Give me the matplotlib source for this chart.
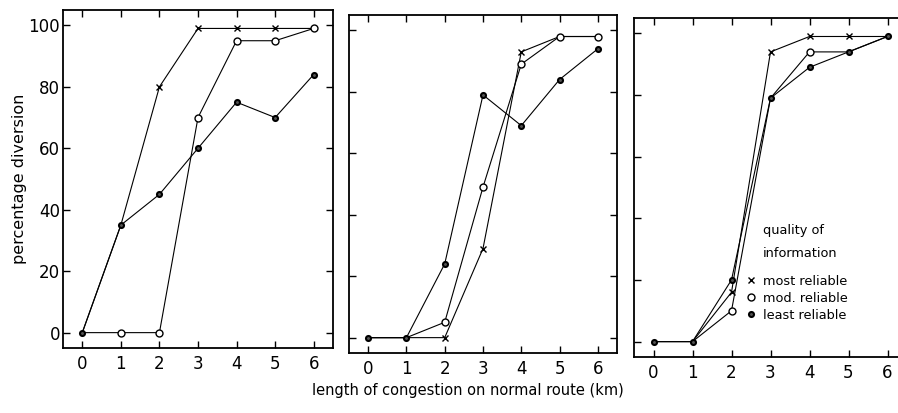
import matplotlib
matplotlib.use('Agg')
import matplotlib.pyplot as plt

plt.rcParams['font.family'] = ['DejaVu Sans']

# congestion length (km)
km = [0, 1, 2, 3, 4, 5, 6]

# percentage diversion, one list per panel and quality of information
p1_most = [0, 35, 80, 99, 99, 99, 99]
p1_mod = [0, 0, 0, 70, 95, 95, 99]
p1_least = [0, 35, 45, 60, 75, 70, 84]

p2_most = [0, 0, 0, 29, 93, 98, 98]
p2_mod = [0, 0, 5, 49, 89, 98, 98]
p2_least = [0, 0, 24, 79, 69, 84, 94]

p3_most = [0, 0, 16, 94, 99, 99, 99]
p3_mod = [0, 0, 10, 79, 94, 94, 99]
p3_least = [0, 0, 20, 79, 89, 94, 99]

panels = [
    (p1_most, p1_mod, p1_least),
    (p2_most, p2_mod, p2_least),
    (p3_most, p3_mod, p3_least),
]

labels = ['most reliable', 'mod. reliable', 'least reliable']
yticks = [0, 20, 40, 60, 80, 100]

# axes boxes in pixels (left, top, right, bottom) on a 898x413 canvas
W, H = 898, 413
boxes = [(63, 10, 333, 348), (349, 15, 617, 353), (634, 18, 907, 357)]

fig = plt.figure(figsize=(8.98, 4.13), dpi=100)


def free_points(vals, others):
    # hide a marker where another series already has a point
    return [i for i, v in enumerate(vals) if all(o[i] != v for o in others)]


for n, (most, mod, least) in enumerate(panels):
    l, t, r, b = boxes[n]
    ax = fig.add_axes([l / W, 1 - b / H, (r - l) / W, (b - t) / H])

    lw = 0.8
    h1, = ax.plot(km, most, color='black', lw=lw, marker='x', ms=4, mew=1.0,
                  markevery=free_points(most, [mod, least]), label=labels[0])
    h2, = ax.plot(km, mod, color='black', lw=lw, marker='o', ms=5, mew=1.0,
                  mfc='white', markevery=free_points(mod, [least]), label=labels[1])
    h3, = ax.plot(km, least, color='black', lw=lw, marker='o', ms=3.6, mew=1.5,
                  mfc='#555555', label=labels[2], zorder=3)

    ax.set_xlim(-0.5, 6.5)
    ax.set_ylim(-5, 105)
    ax.set_xticks(km)
    ax.set_yticks(yticks)
    ax.tick_params(direction='in', length=5, width=1.0, top=True, right=True,
                   labelsize=12)
    ax.tick_params(axis='x', pad=5)
    ax.tick_params(axis='y', pad=2)
    for s in ax.spines.values():
        s.set_linewidth(1.3)

    if n == 0:
        ax.set_ylabel('percentage diversion', fontsize=11.5, labelpad=1)
    else:
        ax.tick_params(axis='y', labelleft=False)

    if n == 2:
        ax.text(0.473, 0.393, 'quality of\ninformation', transform=ax.transAxes,
                fontsize=9.3, va='top', ha='left', linespacing=2.0)
        ax.legend([h1, h2, h3], labels, loc='upper left',
                  bbox_to_anchor=(0.428, 0.243), frameon=False, fontsize=9.3,
                  handlelength=0, handletextpad=0.95, labelspacing=0.32,
                  borderpad=0, borderaxespad=0, numpoints=1)

fig.text(468 / W, 1 - 391 / H, 'length of congestion on normal route (km)',
         ha='center', va='center', fontsize=10.5)

fig.savefig('out.png', dpi=100)
